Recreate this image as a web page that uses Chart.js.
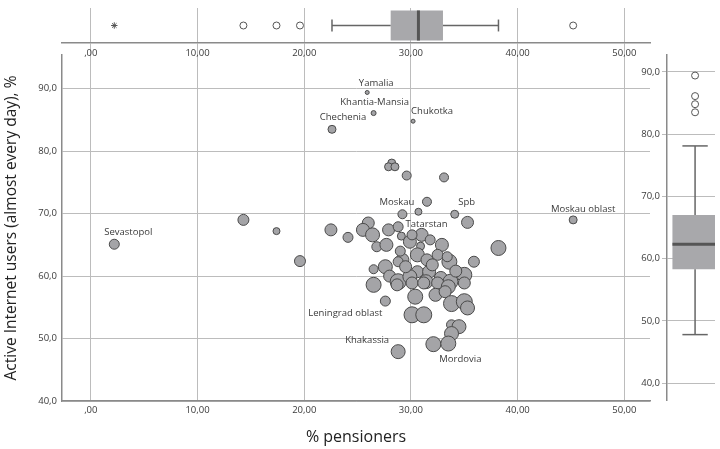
<!DOCTYPE html>
<html><head><meta charset="utf-8">
<script src="https://cdn.jsdelivr.net/npm/chart.js@4.4.1/dist/chart.umd.min.js"></script>
<style>
html,body{margin:0;padding:0;background:#fff;}
#wrap{position:relative;width:720px;height:449px;overflow:hidden;}
#wrap canvas{position:absolute;left:0;top:0;}
</style></head><body>
<div id="wrap">
<canvas id="main" width="720" height="449"></canvas>
<canvas id="top" width="720" height="449"></canvas>
<canvas id="right" width="720" height="449"></canvas>
</div>
<script>
// ---------- DATA ----------
const regionNames = ['Sevastopol','Yamalia','Khantia-Mansia','Chukotka','Chechenia','Moskau','Spb','Moskau oblast','Tatarstan','Leningrad oblast','Khakassia','Mordovia'];
const pensioners = [2.2,25.9,26.5,30.2,22.6,31.5,34.1,45.2,31.0,27.6,28.8,32.1,
  14.3,17.4,19.6,28.2,27.9,28.5,29.6,33.1,29.2,30.7,35.3,22.5,24.1,26.0,25.5,26.4,27.9,28.8,29.1,29.9,30.1,30.9,26.8,27.7,32.9,38.2,
  29.2,30.6,31.5,32.5,33.6,33.4,35.9,26.5,27.6,28.0,30.6,31.7,32.8,35.0,28.8,29.9,31.4,33.7,26.5,28.7,30.1,31.2,32.5,33.5,35.0,
  30.4,32.3,33.2,33.8,35.0,35.3,30.1,31.2,33.8,34.5,33.8,33.5,28.8,31.8,29.5,32.0,34.2,29.0];
const internetUsers = [65.1,89.4,86.1,84.8,83.5,71.9,69.9,69.0,66.6,56.0,47.9,49.1,
  69.0,67.2,62.4,78.1,77.5,77.5,76.1,75.8,69.9,70.3,68.6,67.4,66.2,68.5,67.4,66.6,67.4,67.9,66.4,65.5,66.6,64.8,64.7,65.0,65.0,64.5,
  62.6,63.4,62.6,63.4,62.3,63.1,62.3,61.1,61.5,60.0,60.7,60.7,59.7,60.2,59.1,59.9,59.1,59.1,58.6,58.6,58.9,58.9,58.9,58.3,58.9,
  56.7,57.0,57.5,55.6,55.9,54.9,53.8,53.8,52.2,51.9,50.8,49.2,62.3,65.8,61.5,61.8,60.8,64.0];
const bubbleSize = [5,2,2.5,2,4,4.5,4,4,6.5,5,7,7.5,
  5.5,3.5,5.5,4,4,4,4.5,4.5,4.5,3.5,6,6,5,6,6.5,7,6,5,4,6.5,5,4,5,6.5,6.5,7.5,
  6.5,7,6,5.5,7.5,5,5.5,4.5,7,6,6,6.5,6.5,7.5,8,7,7,7.5,7.5,6,6,6,6,7,6,
  7.5,6.5,6,8,8,7,8,8,5,7,7,7.5,5,5,6,6,6,5];

// box plot statistics: [lower whisker, Q1, median, Q3, upper whisker]
const pensionersBox = [22.6,28.1,30.7,33.0,38.2];
const pensionersOutliers = [14.3,17.4,19.6,45.2];
const pensionersExtremes = [2.2];
const internetBox = [47.8,58.3,62.3,67.0,78.1];
const internetOutliers = [89.4,86.1,84.8,83.5];

const xTicks = [0,10,20,30,40,50];
const yTicks = [40,50,60,70,80,90];

// ---------- STYLE ----------
const FONT = '"Open Sans", "DejaVu Sans", sans-serif';
const GRID = '#bcbcbc';
const AXIS = '#8a8a8a';
const TXT = '#3a3a3a';
const BOXFILL = '#a8a8ab';
const fmtX = v => v === 0 ? ',00' : v.toFixed(2).replace('.', ',');
const fmtY = v => v.toFixed(1).replace('.', ',');

// label placement (pixel offsets from each labelled bubble)
const labelPlacement = {
  'Sevastopol':[14,-12],'Yamalia':[9,-9],'Khantia-Mansia':[1,-11],'Chukotka':[19,-10],
  'Chechenia':[11,-12],'Moskau':[-30,1],'Spb':[12,-12],'Moskau oblast':[10,-11],
  'Tatarstan':[5,-11],'Leningrad oblast':[-40,12],'Khakassia':[-31,-11],'Mordovia':[27,15]
};

const labelPlugin = {
  id: 'regionLabels',
  afterDatasetsDraw(chart) {
    const meta = chart.getDatasetMeta(0);
    const ctx = chart.ctx;
    ctx.save();
    ctx.font = '9.5px ' + FONT;
    ctx.fillStyle = TXT;
    ctx.textAlign = 'center';
    ctx.textBaseline = 'middle';
    regionNames.forEach((name, i) => {
      const el = meta.data[i];
      const off = labelPlacement[name];
      ctx.fillText(name, el.x + off[0], el.y + off[1]);
    });
    ctx.restore();
  }
};

const bubbles = pensioners.map((x, i) => ({x: x, y: internetUsers[i], r: bubbleSize[i]}));

// ---------- MAIN SCATTER ----------
new Chart(document.getElementById('main'), {
  type: 'bubble',
  data: { datasets: [{
    data: bubbles,
    backgroundColor: '#a4a4a7',
    borderColor: '#4a4a4a',
    borderWidth: 1
  }]},
  options: {
    responsive: false, animation: false, events: [],
    layout: { padding: {left: 0, top: 55, right: 70, bottom: 0} },
    plugins: { legend: {display: false}, tooltip: {enabled: false} },
    scales: {
      x: {
        type: 'linear', min: -2.7, max: 52.4,
        afterBuildTicks: s => { s.ticks = xTicks.map(v => ({value: v})); },
        afterFit: s => { s.height = 48; },
        grid: { color: GRID, drawTicks: false },
        border: { color: AXIS, width: 1.5 },
        ticks: { callback: fmtX, font: {family: FONT, size: 9.5}, color: TXT, padding: 4, maxRotation: 0 },
        title: { display: true, text: '% pensioners', font: {family: FONT, size: 16}, color: '#222', padding: {top: 0, bottom: 2} }
      },
      y: {
        type: 'linear', min: 40, max: 95.4,
        afterBuildTicks: s => { s.ticks = yTicks.map(v => ({value: v})); },
        afterFit: s => { s.width = 62; },
        grid: { color: GRID, drawTicks: false },
        border: { color: AXIS, width: 1.5 },
        ticks: { callback: fmtY, font: {family: FONT, size: 9.5}, color: TXT, padding: 5 },
        title: { display: true, text: 'Active Internet users (almost every day), %', font: {family: FONT, size: 15.5}, color: '#222', padding: {top: 2, bottom: 0} }
      }
    }
  },
  plugins: [labelPlugin]
});

// ---------- TOP BOXPLOT (pensioners) ----------
const H = 0.86, C = 0.34;
const [pMin, pQ1, pMed, pQ3, pMax] = pensionersBox;
const seg = (pts, color, width) => ({ type: 'scatter', data: pts, showLine: true, borderColor: color, borderWidth: width, pointRadius: 0, fill: false, order: 1 });
new Chart(document.getElementById('top'), {
  type: 'scatter',
  data: { datasets: [
    { type: 'scatter', order: 10, data: [{x:pQ1,y:-H},{x:pQ3,y:-H},{x:pQ3,y:H},{x:pQ1,y:H},{x:pQ1,y:-H}], showLine: true, fill: 'shape', backgroundColor: BOXFILL, borderColor: BOXFILL, borderWidth: 0, pointRadius: 0 },
    seg([{x:pMed,y:-H},{x:pMed,y:H}], '#555', 3),
    seg([{x:pMin,y:0},{x:pQ1,y:0}], '#666', 1.5),
    seg([{x:pQ3,y:0},{x:pMax,y:0}], '#666', 1.5),
    seg([{x:pMin,y:-C},{x:pMin,y:C}], '#666', 1.5),
    seg([{x:pMax,y:-C},{x:pMax,y:C}], '#666', 1.5),
    { type: 'scatter', order: 0, data: pensionersOutliers.map(v => ({x: v, y: 0})), pointRadius: 3.5, pointStyle: 'circle', backgroundColor: '#fff', borderColor: '#555', borderWidth: 1 },
    { type: 'scatter', order: 0, data: pensionersExtremes.map(v => ({x: v, y: 0})), pointRadius: 3.2, pointStyle: 'star', backgroundColor: '#fff', borderColor: '#555', borderWidth: 1 }
  ]},
  options: {
    responsive: false, animation: false, events: [],
    layout: { padding: {left: 62, top: 8, right: 70, bottom: 386} },
    plugins: { legend: {display: false}, tooltip: {enabled: false} },
    scales: {
      x: {
        type: 'linear', min: -2.7, max: 52.4,
        afterBuildTicks: s => { s.ticks = xTicks.map(v => ({value: v})); },
        afterFit: s => { s.height = 20; },
        grid: { color: GRID, drawTicks: true, tickLength: 12 },
        border: { color: AXIS, width: 1.5 },
        ticks: { callback: fmtX, font: {family: FONT, size: 9.5}, color: TXT, padding: -7, maxRotation: 0 }
      },
      y: { type: 'linear', min: -1, max: 1, display: false }
    }
  }
});

// ---------- RIGHT BOXPLOT (internet users) ----------
const W = 1, WC = 0.56;
const [iMin, iQ1, iMed, iQ3, iMax] = internetBox;
new Chart(document.getElementById('right'), {
  type: 'scatter',
  data: { datasets: [
    { type: 'scatter', order: 10, data: [{x:-W,y:iQ1},{x:W,y:iQ1},{x:W,y:iQ3},{x:-W,y:iQ3},{x:-W,y:iQ1}], showLine: true, fill: 'shape', backgroundColor: BOXFILL, borderColor: BOXFILL, borderWidth: 0, pointRadius: 0 },
    seg([{x:-W,y:iMed},{x:W,y:iMed}], '#555', 3),
    seg([{x:0,y:iMin},{x:0,y:iQ1}], '#666', 1.5),
    seg([{x:0,y:iQ3},{x:0,y:iMax}], '#666', 1.5),
    seg([{x:-WC,y:iMin},{x:WC,y:iMin}], '#666', 1.5),
    seg([{x:-WC,y:iMax},{x:WC,y:iMax}], '#666', 1.5),
    { type: 'scatter', order: 0, data: internetOutliers.map(v => ({x: 0, y: v})), pointRadius: 3.5, pointStyle: 'circle', backgroundColor: '#fff', borderColor: '#555', borderWidth: 1 }
  ]},
  options: {
    responsive: false, animation: false, events: [],
    layout: { padding: {left: 630, top: 55, right: 0, bottom: 49} },
    plugins: { legend: {display: false}, tooltip: {enabled: false} },
    scales: {
      x: { type: 'linear', min: -1.24, max: 0.88, display: false },
      y: {
        type: 'linear', min: 37.3, max: 92.7,
        afterBuildTicks: s => { s.ticks = yTicks.map(v => ({value: v})); },
        afterFit: s => { s.width = 37; },
        grid: { color: GRID, drawTicks: true, tickLength: 5 },
        border: { color: AXIS, width: 1.5 },
        ticks: { callback: fmtY, font: {family: FONT, size: 9.5}, color: TXT, padding: 2 }
      }
    }
  }
});
</script>
</body></html>
